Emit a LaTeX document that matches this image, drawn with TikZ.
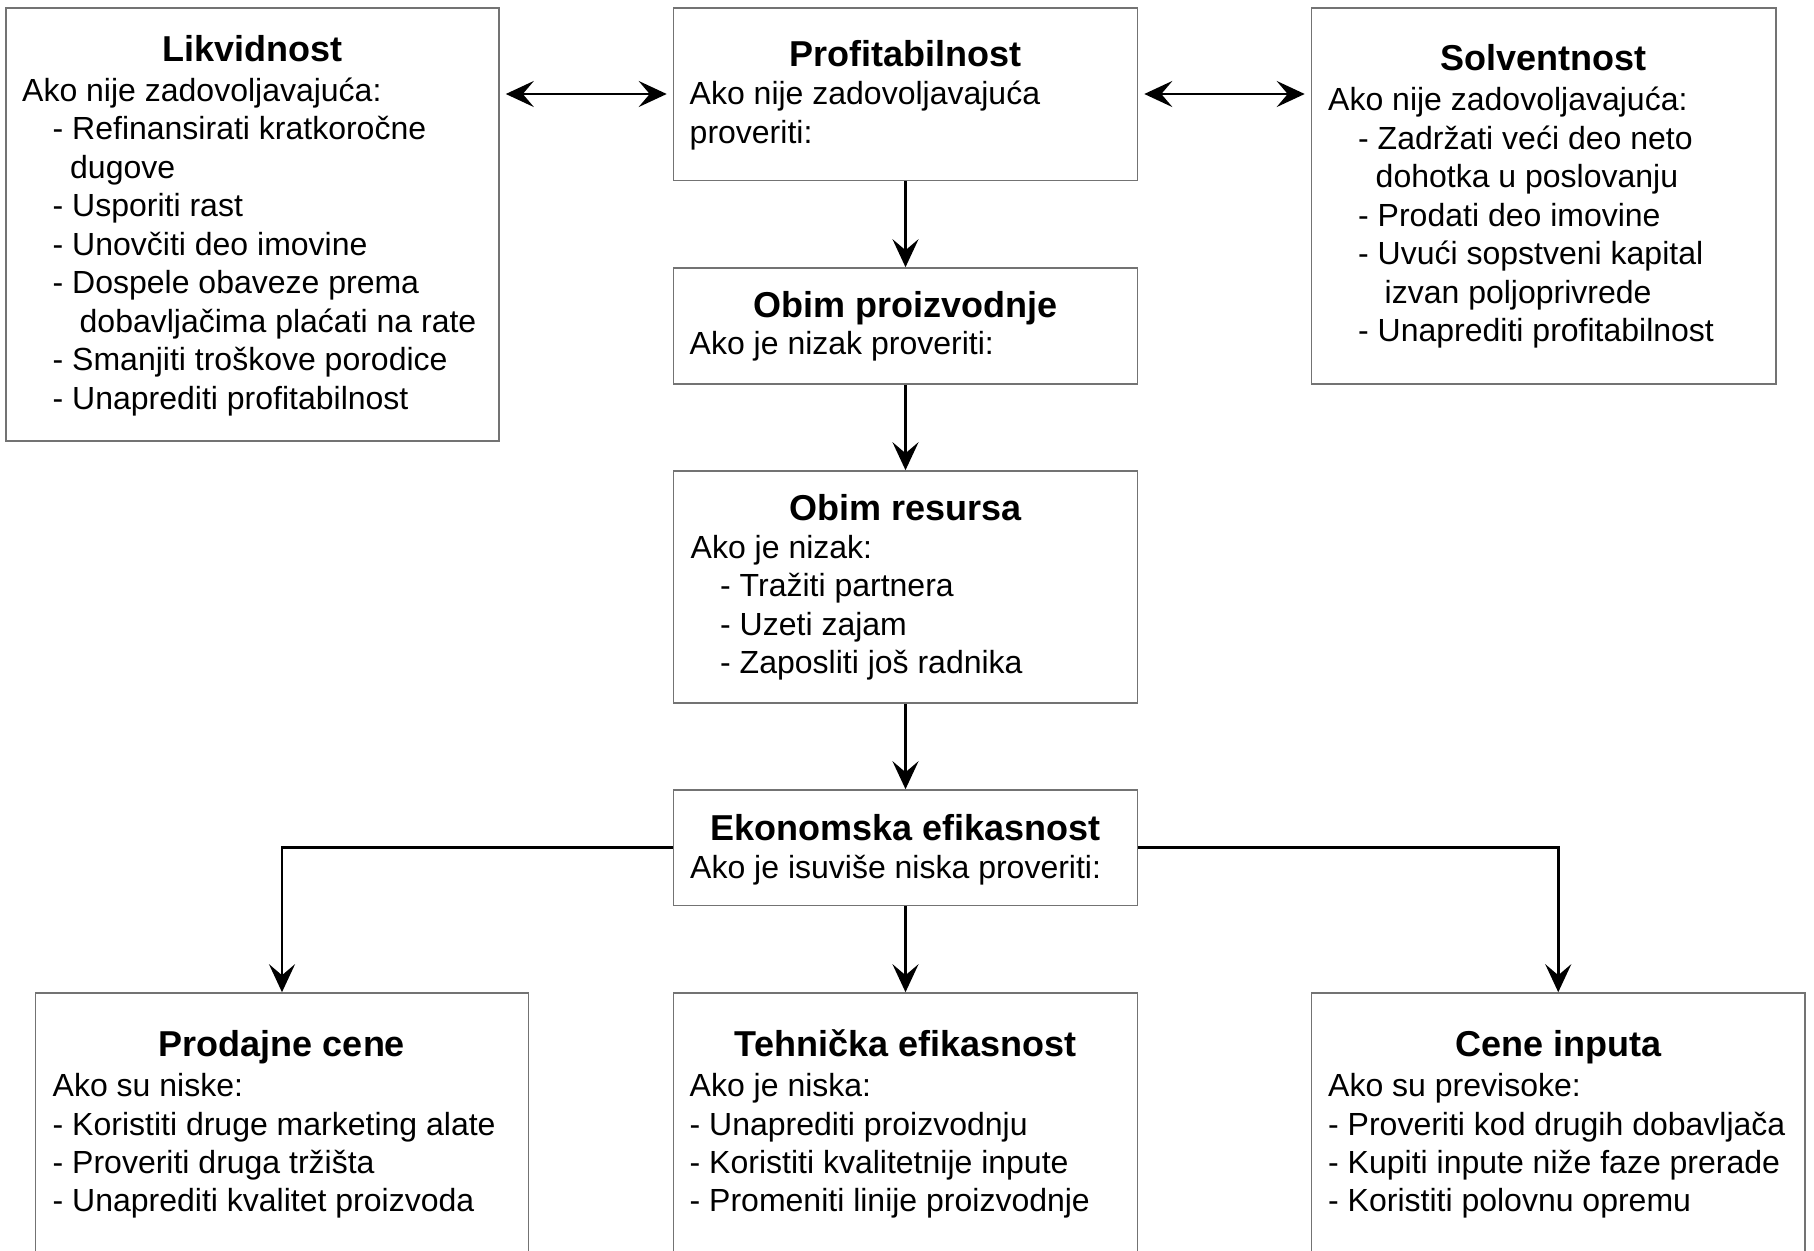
\documentclass[tikz,border=0pt]{standalone}
\usepackage{fontspec}
\setmainfont{Liberation Sans}
\usetikzlibrary{arrows.meta,calc}
\begin{document}
\begin{tikzpicture}[x=1pt,y=-1pt,
  box/.style={draw=black!55, line width=1.6pt, fill=white, rectangle, inner sep=0pt},
  ttl/.style={anchor=base, inner sep=0pt, font=\bfseries\fontsize{36}{40}\selectfont},
  bdy/.style={anchor=north west, inner sep=0pt, align=left, font=\fontsize{32}{38.5}\selectfont},
  conn/.style={line width=2.8pt, -{Stealth[length=28pt,width=26pt,inset=11pt]}},
  dconn/.style={line width=2.8pt, {Stealth[length=28pt,width=26pt,inset=11pt]}-{Stealth[length=28pt,width=26pt,inset=11pt]}}
]
\useasboundingbox (0,0) rectangle (1814,1250);
\fill[white] (0,0) rectangle (1814,1250);

% boxes
\node[box, minimum width=493pt, minimum height=433pt] (liq) at (252.5,224.5) {};
\node[box, minimum width=464pt, minimum height=172.5pt] (prof) at (905.5,94.25) {};
\node[box, minimum width=464.5pt, minimum height=376pt] (solv) at (1543.75,196) {};
\node[box, minimum width=464pt, minimum height=116pt] (obp) at (905.5,326) {};
\node[box, minimum width=464pt, minimum height=232pt] (obr) at (905.5,587) {};
\node[box, minimum width=464pt, minimum height=115.5pt] (eko) at (905.5,847.75) {};
\node[box, minimum width=493pt, minimum height=269pt] (prod) at (282,1127.5) {};
\node[box, minimum width=464pt, minimum height=269pt] (teh) at (905.5,1127.5) {};
\node[box, minimum width=493.5pt, minimum height=269pt] (cene) at (1558.25,1127.5) {};

% Likvidnost
\node[ttl] (liqT) at (252.5,61.5) {Likvidnost};
\node[bdy] (liqB) at (22,{101-26.95}) {\strut Ako nije zadovoljavajuća:\\
\hspace*{30.5pt}- Refinansirati kratkoročne\\
\hspace*{48pt}dugove\\
\hspace*{30.5pt}- Usporiti rast\\
\hspace*{30.5pt}- Unovčiti deo imovine\\
\hspace*{30.5pt}- Dospele obaveze prema\\
\hspace*{57.5pt}dobavljačima plaćati na rate\\
\hspace*{30.5pt}- Smanjiti troškove porodice\\
\hspace*{30.5pt}- Unaprediti profitabilnost};

% Profitabilnost
\node[ttl] (profT) at (905.5,66) {Profitabilnost};
\node[bdy] (profB) at (689.5,{104.5-26.95}) {\strut Ako nije zadovoljavajuća\\proveriti:};

% Solventnost
\node[ttl] (solvT) at (1543.75,70.5) {Solventnost};
\node[bdy] (solvB) at (1328,{110.5-26.95}) {\strut Ako nije zadovoljavajuća:\\
\hspace*{30pt}- Zadržati veći deo neto\\
\hspace*{47.5pt}dohotka u poslovanju\\
\hspace*{30pt}- Prodati deo imovine\\
\hspace*{30pt}- Uvući sopstveni kapital\\
\hspace*{56.5pt}izvan poljoprivrede\\
\hspace*{30pt}- Unaprediti profitabilnost};

% Obim proizvodnje
\node[ttl] (obpT) at (905.5,317) {Obim proizvodnje};
\node[bdy] (obpB) at (689.5,{354.5-26.95}) {\strut Ako je nizak proveriti:};

% Obim resursa
\node[ttl] (obrT) at (905.5,520.5) {Obim resursa};
\node[bdy] (obrB) at (690.5,{558-26.95}) {\strut Ako je nizak:\\
\hspace*{29.5pt}- Tražiti partnera\\
\hspace*{29.5pt}- Uzeti zajam\\
\hspace*{29.5pt}- Zaposliti još radnika};

% Ekonomska efikasnost
\node[ttl] (ekoT) at (905.5,840) {Ekonomska efikasnost};
\node[bdy] (ekoB) at (690,{878-26.95}) {\strut Ako je isuviše niska proveriti:};

% Prodajne cene
\node[ttl] (prodT) at (282,1056.7) {Prodajne cene};
\node[bdy, font=\fontsize{32}{38.3}\selectfont] (prodB) at (52.5,{1096.5-26.8}) {\strut Ako su niske:\\
- Koristiti druge marketing alate\\
- Proveriti druga tržišta\\
- Unaprediti kvalitet proizvoda};

% Tehnicka efikasnost
\node[ttl] (tehT) at (905.5,1056.7) {Tehnička efikasnost};
\node[bdy, font=\fontsize{32}{38.3}\selectfont] (tehB) at (689.5,{1096.5-26.8}) {\strut Ako je niska:\\
- Unaprediti proizvodnju\\
- Koristiti kvalitetnije inpute\\
- Promeniti linije proizvodnje};

% Cene inputa
\node[ttl] (ceneT) at (1558.25,1056.7) {Cene inputa};
\node[bdy, font=\fontsize{32}{38.3}\selectfont] (ceneB) at (1328,{1096.5-26.8}) {\strut Ako su previsoke:\\
- Proveriti kod drugih dobavljača\\
- Kupiti inpute niže faze prerade\\
- Koristiti polovnu opremu};

% connectors
\coordinate (hy) at (0,94);
\draw[dconn] ([xshift=6pt]liq.east |- hy) -- ([xshift=-6pt]prof.west |- hy);
\draw[dconn] ([xshift=6pt]prof.east |- hy) -- ([xshift=-6pt]solv.west |- hy);
\draw[conn] (prof.south) -- (obp.north);
\draw[conn] (obp.south) -- (obr.north);
\draw[conn] (obr.south) -- (eko.north);
\draw[conn] (eko.south) -- (teh.north);
\draw[conn] (eko.west) -| (prod.north);
\draw[conn] (eko.east) -| (cene.north);
\end{tikzpicture}
\end{document}
